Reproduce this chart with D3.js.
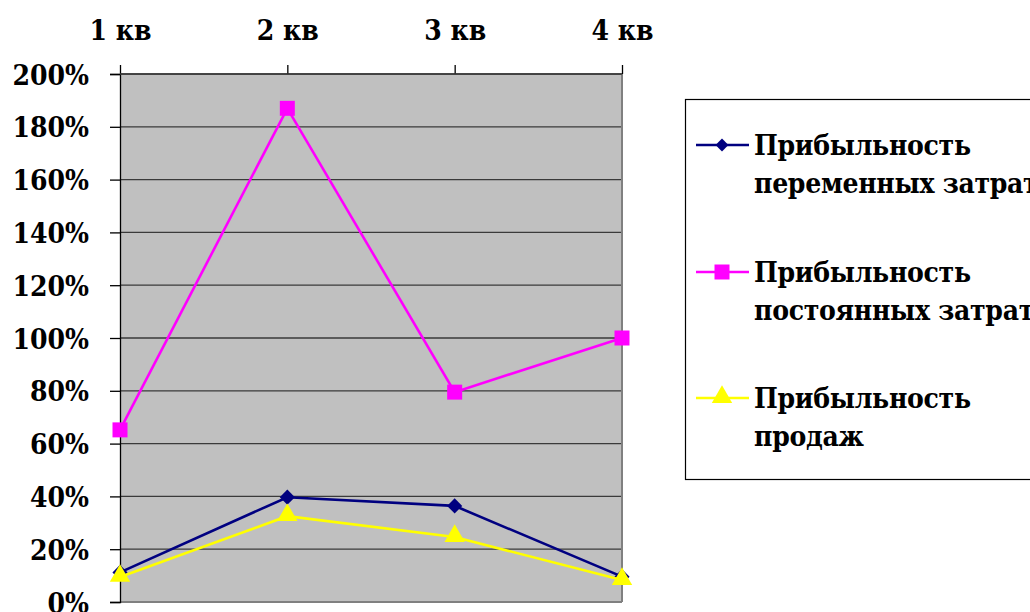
<!DOCTYPE html>
<html>
<head>
<meta charset="utf-8">
<script src="https://cdn.jsdelivr.net/npm/d3@7"></script>
<style>
  html, body { margin: 0; padding: 0; background: #fff; }
  svg { display: block; }
  svg text { font-stretch: condensed; }
</style>
</head>
<body>
<svg id="chart" width="1030" height="612"></svg>
<script>
// Quarters and profitability series (fractions of 1)
const quarters = ["1 кв", "2 кв", "3 кв", "4 кв"];
const variableCostProfit = [0.112, 0.397, 0.364, 0.096];
const fixedCostProfit    = [0.652, 1.87, 0.795, 1.00];
const salesProfit        = [0.095, 0.325, 0.246, 0.083];
const yTicks = [0, 0.2, 0.4, 0.6, 0.8, 1.0, 1.2, 1.4, 1.6, 1.8, 2.0];

const series = [
  { name: ["Прибыльность", "переменных затрат"], values: variableCostProfit, color: "#000080", marker: "diamond" },
  { name: ["Прибыльность", "постоянных затрат"], values: fixedCostProfit,    color: "#FF00FF", marker: "square" },
  { name: ["Прибыльность", "продаж"],            values: salesProfit,        color: "#FFFF00", marker: "triangle" }
];

const FONT = "'DejaVu Serif Condensed', 'DejaVu Serif', serif";
const FS = 28;
const svg = d3.select("#chart");
const plot = { left: 120, right: 622, top: 74, bottom: 602 };

const x = d3.scalePoint().domain(quarters).range([plot.left, plot.right]);
const y = d3.scaleLinear().domain([0, 2]).range([plot.bottom, plot.top]);

// Plot area
svg.append("rect")
  .attr("x", plot.left).attr("y", plot.top)
  .attr("width", plot.right - plot.left).attr("height", plot.bottom - plot.top)
  .attr("fill", "#C0C0C0");

// Gridlines
svg.append("g").selectAll("line")
  .data(yTicks.filter(d => d > 0))
  .join("line")
  .attr("x1", plot.left).attr("x2", plot.right)
  .attr("y1", d => y(d)).attr("y2", d => y(d))
  .attr("stroke", "#3a3a3a").attr("stroke-width", 1.3);

// Right and bottom frame
svg.append("line")
  .attr("x1", plot.right).attr("x2", plot.right)
  .attr("y1", plot.top).attr("y2", plot.bottom)
  .attr("stroke", "#808080").attr("stroke-width", 2);
svg.append("line")
  .attr("x1", plot.left).attr("x2", plot.right)
  .attr("y1", plot.bottom).attr("y2", plot.bottom)
  .attr("stroke", "#808080").attr("stroke-width", 2);

// Value axis
const yAxis = d3.axisLeft(y)
  .tickValues(yTicks)
  .tickFormat(d => Math.round(d * 100) + "%")
  .tickSize(10)
  .tickPadding(21);
const gy = svg.append("g")
  .attr("transform", `translate(${plot.left},0)`)
  .call(yAxis)
  .attr("font-family", FONT).attr("font-size", FS).attr("font-weight", "bold");
gy.select(".domain").attr("stroke", "#000").attr("stroke-width", 1.3);
gy.selectAll(".tick line").attr("stroke", "#000").attr("stroke-width", 1.3);
gy.selectAll(".tick text").attr("fill", "#000").attr("dy", "0.36em");

// Category axis on top
const xAxis = d3.axisTop(x).tickSize(9).tickPadding(25);
const gx = svg.append("g")
  .attr("transform", `translate(0,${plot.top})`)
  .call(xAxis)
  .attr("font-family", FONT).attr("font-size", FS).attr("font-weight", "bold");
gx.select(".domain").remove();
gx.selectAll(".tick line").attr("stroke", "#000").attr("stroke-width", 1.3);
gx.selectAll(".tick text").attr("fill", "#000");

svg.append("line")
  .attr("x1", plot.left).attr("x2", plot.right)
  .attr("y1", plot.top).attr("y2", plot.top)
  .attr("stroke", "#3a3a3a").attr("stroke-width", 1.3);

// Markers
function drawMarker(g, s, scale) {
  const k = scale || 1;
  if (s.marker === "diamond") {
    g.append("path").attr("d", d3.symbol().type(d3.symbolSquare).size(115 * k * k)())
      .attr("transform", "rotate(45)").attr("fill", s.color);
  } else if (s.marker === "square") {
    g.append("path").attr("d", d3.symbol().type(d3.symbolSquare).size(225 * k * k)()).attr("fill", s.color);
  } else {
    g.append("path").attr("d", d3.symbol().type(d3.symbolTriangle).size(180 * k * k)()).attr("fill", s.color)
      .attr("transform", "translate(0,-1)");
  }
}

const line = d3.line().x((d, i) => x(quarters[i])).y(d => y(d));

series.forEach(s => {
  svg.append("path")
    .datum(s.values)
    .attr("d", line)
    .attr("fill", "none")
    .attr("stroke", s.color)
    .attr("stroke-width", 2.6);
  s.values.forEach((v, i) => {
    const g = svg.append("g").attr("transform", `translate(${x(quarters[i])},${y(v)})`);
    drawMarker(g, s);
  });
});

// Legend
const legend = svg.append("g");
legend.append("rect")
  .attr("x", 685.5).attr("y", 99.5)
  .attr("width", 400).attr("height", 380)
  .attr("fill", "#fff").attr("stroke", "#000").attr("stroke-width", 1.2);

const legendY = [145, 272, 398];
series.forEach((s, i) => {
  const g = legend.append("g").attr("transform", `translate(0,${legendY[i]})`);
  g.append("line").attr("x1", 696).attr("x2", 749).attr("y1", 0).attr("y2", 0)
    .attr("stroke", s.color).attr("stroke-width", 2.6);
  const m = g.append("g").attr("transform", "translate(722,0)");
  drawMarker(m, s, s.marker === "diamond" ? 0.85 : 1);
  const t = g.append("text").attr("x", 754).attr("y", 10)
    .attr("font-family", FONT).attr("font-size", FS).attr("font-weight", "bold")
    .attr("letter-spacing", -0.3);
  s.name.forEach((part, j) => {
    t.append("tspan").attr("x", 754).attr("dy", j === 0 ? 0 : 38).text(part);
  });
});
</script>
</body>
</html>
